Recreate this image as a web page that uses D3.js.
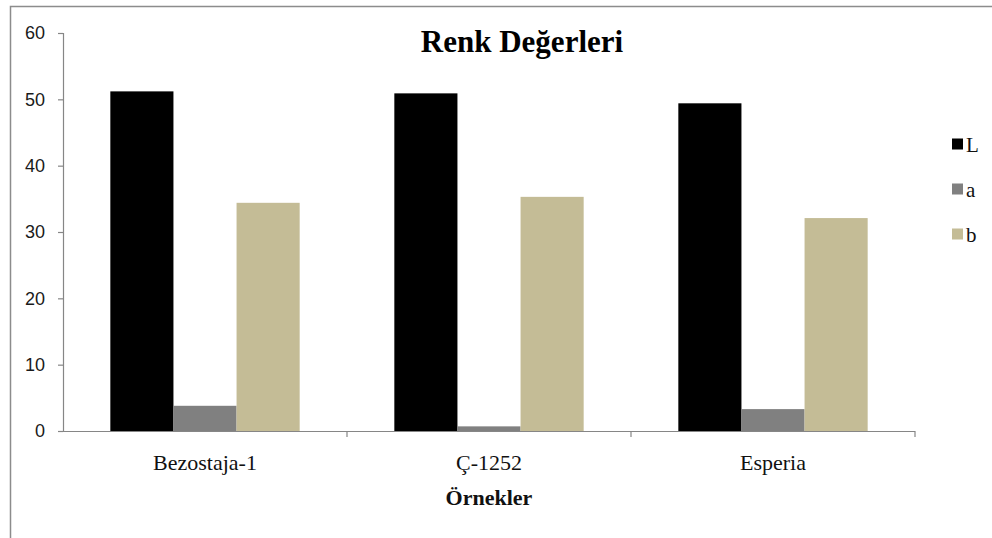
<!DOCTYPE html>
<html>
<head>
<meta charset="utf-8">
<script src="https://cdn.jsdelivr.net/npm/d3@7"></script>
<style>
  html, body { margin: 0; padding: 0; background: #fff; }
  svg { display: block; }
</style>
</head>
<body>
<svg id="chart" width="992" height="538"></svg>
<script>
// Colour values per wheat sample
const categories = ["Bezostaja-1", "Ç-1252", "Esperia"];
const seriesNames = ["L", "a", "b"];
const valuesL = [51.2, 50.9, 49.4];
const valuesA = [3.8, 0.7, 3.3];
const valuesB = [34.4, 35.3, 32.1];
const yTicks = [0, 10, 20, 30, 40, 50, 60];
const seriesColors = ["#000000", "#808080", "#c4bc96"];

const seriesValues = [valuesL, valuesA, valuesB];
const rows = categories.map((c, i) => ({
  category: c,
  values: seriesNames.map((s, j) => ({ key: s, value: seriesValues[j][i] }))
}));

const svg = d3.select("#chart");
const W = 992, H = 538;
const plot = { left: 63, right: 915, top: 33, bottom: 431 };
const serif = "'Liberation Serif', 'Times New Roman', serif";

// chart frame
svg.append("path")
  .attr("d", `M10.5,${H} L10.5,6.5 L${W},6.5`)
  .attr("fill", "none")
  .attr("stroke", "#8c8c8c")
  .attr("stroke-width", 1.5);

const x0 = d3.scaleBand()
  .domain(categories)
  .range([plot.left, plot.right])
  .paddingInner(0)
  .paddingOuter(0);

const x1 = d3.scaleBand()
  .domain(seriesNames)
  .range([0, x0.bandwidth()])
  .paddingInner(0)
  .paddingOuter(0.75);

const y = d3.scaleLinear()
  .domain([0, 60])
  .range([plot.bottom, plot.top]);

const color = d3.scaleOrdinal().domain(seriesNames).range(seriesColors);

// bars
const groups = svg.append("g")
  .selectAll("g")
  .data(rows)
  .join("g")
  .attr("transform", d => `translate(${x0(d.category)},0)`);

groups.selectAll("rect")
  .data(d => d.values)
  .join("rect")
  .attr("x", d => x1(d.key))
  .attr("y", d => y(d.value))
  .attr("width", x1.bandwidth())
  .attr("height", d => y(0) - y(d.value))
  .attr("fill", d => color(d.key));

// y axis
const yAxis = svg.append("g")
  .attr("transform", `translate(${plot.left},0)`)
  .call(d3.axisLeft(y).tickValues(yTicks).tickSize(5).tickPadding(13));
yAxis.select(".domain").attr("stroke", "#868686").attr("stroke-width", 1.2);
yAxis.selectAll(".tick line").attr("stroke", "#868686").attr("stroke-width", 1.2);
yAxis.selectAll(".tick text")
  .attr("fill", "#1a1a1a")
  .style("font-family", "'Liberation Sans', Arial, sans-serif")
  .style("font-size", "18px");

// x axis with ticks on category boundaries
const xAxisG = svg.append("g")
  .attr("transform", `translate(0,${plot.bottom})`);
xAxisG.append("line")
  .attr("x1", plot.left).attr("x2", plot.right)
  .attr("y1", 0.5).attr("y2", 0.5)
  .attr("stroke", "#868686").attr("stroke-width", 1.2);
const boundaries = categories.map(c => x0(c)).concat([x0(categories[categories.length - 1]) + x0.bandwidth()]);
xAxisG.selectAll("line.bnd")
  .data(boundaries.slice(1))
  .join("line")
  .attr("class", "bnd")
  .attr("x1", d => d).attr("x2", d => d)
  .attr("y1", 0).attr("y2", 6)
  .attr("stroke", "#868686").attr("stroke-width", 1.2);
xAxisG.selectAll("text")
  .data(categories)
  .join("text")
  .attr("x", d => x0(d) + x0.bandwidth() / 2)
  .attr("y", 39)
  .attr("text-anchor", "middle")
  .attr("fill", "#111")
  .style("font-family", serif)
  .style("font-size", "22px")
  .text(d => d);

// axis title
svg.append("text")
  .attr("x", (plot.left + plot.right) / 2)
  .attr("y", 505)
  .attr("text-anchor", "middle")
  .attr("fill", "#111")
  .style("font-family", serif)
  .style("font-size", "22px")
  .style("font-weight", "bold")
  .text("Örnekler");

// title
svg.append("text")
  .attr("x", 522)
  .attr("y", 52)
  .attr("text-anchor", "middle")
  .attr("fill", "#000")
  .style("font-family", serif)
  .style("font-size", "31px")
  .style("font-weight", "bold")
  .text("Renk Değerleri");

// legend
const legend = svg.append("g")
  .attr("transform", "translate(952,0)")
  .selectAll("g")
  .data(seriesNames)
  .join("g")
  .attr("transform", (d, i) => `translate(0,${144 + i * 45})`);
legend.append("rect")
  .attr("x", 0).attr("y", -5.5)
  .attr("width", 11).attr("height", 11)
  .attr("fill", d => color(d));
legend.append("text")
  .attr("x", 14)
  .attr("y", 8)
  .attr("fill", "#111")
  .style("font-family", serif)
  .style("font-size", "21px")
  .text(d => d);
</script>
</body>
</html>
